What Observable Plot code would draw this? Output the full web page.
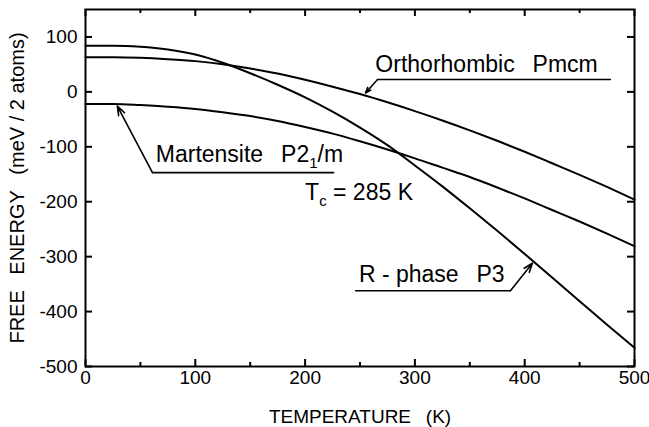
<!DOCTYPE html>
<html><head><meta charset="utf-8">
<script src="https://cdn.jsdelivr.net/npm/d3@7"></script>
<script src="https://cdn.jsdelivr.net/npm/@observablehq/plot@0.6"></script>
<style>
body{margin:0;background:#fff}
svg text{white-space:pre}
</style></head><body><div id="chart"></div>
<script>
// Temperature grid (K)
const temperature = [0,25,50,75,100,125,150,175,200,225,250,275,300,325,350,375,400,425,450,475,500];
// Free energy (meV / 2 atoms)
const rPhase       = [84,84,82,77,68,53,34,13,-10,-36,-65,-97,-134,-172,-212,-253,-295,-338,-381,-424,-466];
const orthorhombic = [63,63,62,59.5,56,50.5,42.5,33.5,22,9.5,-4,-19,-35,-52,-70,-89,-109,-130,-151,-173,-196];
const martensite   = [-22,-22,-24,-27,-31,-37,-44,-53,-64,-76,-90,-105,-121,-138,-155,-174,-194,-215,-236,-258,-281];

const xMajorTicks = [0,100,200,300,400,500];
const xMinorTicks = [50,150,250,350,450];
const yTicks = [-500,-400,-300,-200,-100,0,100];

const xTitle = "TEMPERATURE\u2002 (K)";
const yTitle = "FREE\u2002 ENERGY\u2002 (meV / 2 atoms)";

// Annotations (data coordinates)
const annoText = ["Orthorhombic\u2002 Pmcm", "Martensite\u2002 P2_{1}/m", "R - phase\u2002 P3", "T_{c} = 285 K"];
const annoTextT = [264, 64, 249, 200];
const annoTextF = [36, -127, -346, -197];
// leader lines: [tip, corner, end]
const leaderName = ["ortho","ortho","ortho","mart","mart","mart","r","r","r"];
const leaderT = [255,266,478, 29,61,226, 407,387,246];
const leaderF = [-2,22.5,22.5, -26,-147,-147, -312,-362,-362];

const curves = [];
temperature.forEach((t,i) => {
  curves.push({phase:"R", T:t, F:rPhase[i]});
  curves.push({phase:"O", T:t, F:orthorhombic[i]});
  curves.push({phase:"M", T:t, F:martensite[i]});
});
const leaders = leaderT.map((t,i)=>({name:leaderName[i], T:t, F:leaderF[i], k:i%3}));
const arrows = ["ortho","mart","r"].map(n => {
  const p = leaders.filter(d=>d.name===n);
  return {x1:p[1].T, y1:p[1].F, x2:p[0].T, y2:p[0].F};
});
const horiz = leaders.filter(d=>d.k>0);
const annos = annoText.map((s,i)=>({s, T:annoTextT[i], F:annoTextF[i]}));
const fmt = d => String(d);

const W = 649, H = 427, ML = 85, MR = 15, MT = 9, MB = 61;
const fw = W - ML - MR, fh = H - MT - MB;
const tickColor = "black";

const chart = Plot.plot({
  width: W, height: H,
  marginLeft: ML, marginRight: MR, marginTop: MT, marginBottom: MB,
  style: {fontFamily: "'Liberation Sans', Arial, Helvetica, sans-serif", fontSize: "19px", color: "black", background: "white"},
  x: {domain: [0,500]},
  y: {domain: [-500,150]},
  marks: [
    Plot.line(curves, {x:"T", y:"F", z:"phase", stroke:"black", strokeWidth:2, curve:"monotone-x"}),
    Plot.line(horiz, {x:"T", y:"F", z:"name", stroke:"black", strokeWidth:1.6}),
    Plot.arrow(arrows, {x1:"x1", y1:"y1", x2:"x2", y2:"y2", stroke:"black", strokeWidth:1.6, headLength:9, headAngle:40}),
    Plot.text(annos, {x:"T", y:"F", text:"s", textAnchor:"start", lineAnchor:"bottom", fontSize:23, fill:"black"}),
    // inward ticks
    Plot.tickX(xMajorTicks, {x:d=>d, insetTop: fh - 7, stroke:tickColor, strokeWidth:2}),
    Plot.tickX(xMajorTicks, {x:d=>d, insetBottom: fh - 7, stroke:tickColor, strokeWidth:2}),
    Plot.tickX(xMinorTicks, {x:d=>d, insetTop: fh - 4, stroke:tickColor, strokeWidth:2}),
    Plot.tickX(xMinorTicks, {x:d=>d, insetBottom: fh - 4, stroke:tickColor, strokeWidth:2}),
    Plot.tickY(yTicks, {y:d=>d, insetRight: fw - 7, stroke:tickColor, strokeWidth:2}),
    Plot.tickY(yTicks, {y:d=>d, insetLeft: fw - 7, stroke:tickColor, strokeWidth:2}),
    // tick labels
    Plot.axisX({anchor:"bottom", ticks:xMajorTicks, tickSize:0, tickPadding:4, tickFormat:fmt, label:null}),
    Plot.axisY({anchor:"left", ticks:yTicks, tickSize:0, tickPadding:8, tickFormat:fmt, label:null}),
    Plot.text([xTitle], {frameAnchor:"bottom", textAnchor:"middle", dy:56, lineAnchor:"bottom", fontSize:19, fill:"black"}),
    Plot.text([yTitle], {frameAnchor:"left", textAnchor:"middle", dx:-68, rotate:-90, lineAnchor:"middle", fontSize:20, fill:"black"}),
    Plot.frame({stroke:"black", strokeWidth:2})
  ]
});

// turn "_{x}" markers into subscripts
d3.select(chart).selectAll("text").each(function() {
  const t = this.textContent;
  const m = /^(.*?)_\{(.*?)\}(.*)$/.exec(t);
  if (!m) return;
  const el = d3.select(this);
  el.text(null);
  el.append("tspan").text(m[1]);
  el.append("tspan").attr("dy", 6).attr("font-size", "15px").text(m[2]);
  el.append("tspan").attr("dy", -6).text(m[3]);
});

document.getElementById("chart").appendChild(chart);
</script></body></html>
